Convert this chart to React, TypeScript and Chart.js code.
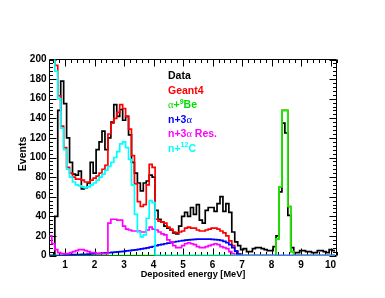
import React, { useEffect, useRef } from 'react';
import { Chart, registerables } from 'chart.js';

Chart.register(...registerables);

// Histogram binning (MeV): bins of 0.1 MeV, first bin starts at 0.45
const FIRST_EDGE = 0.45;
const BIN_WIDTH = 0.1;

const X_TICKS = [1, 2, 3, 4, 5, 6, 7, 8, 9, 10];
const X_TICK_LABELS = ['1', '2', '3', '4', '5', '6', '7', '8', '9', '10'];
const Y_TICKS = [0, 20, 40, 60, 80, 100, 120, 140, 160, 180, 200];
const Y_TICK_LABELS = ['0', '20', '40', '60', '80', '100', '120', '140', '160', '180', '200'];

// bin centres 0.5 ... 10.1
const DATA = [
  0, 0, 40, 148, 178,
  155, 120, 95, 83, 82, 86, 68, 69, 74, 95,
  84, 108, 116, 127, 108, 120, 136, 154, 142, 149,
  138, 142, 123, 95, 84, 74, 66, 74, 76, 82,
  80, 46, 37, 34, 30, 28, 26, 23, 22, 30,
  40, 44, 40, 49, 42, 52, 36, 33, 46, 49,
  49, 45, 53, 60, 45, 53, 44, 24, 14, 10,
  6, 7, 4, 4, 7, 8, 8, 7, 6, 5,
  5, 9, 20, 65, 135, 125, 41, 8, 3, 3,
  5, 5, 4, 4, 3, 3, 5, 5, 4, 3,
  6, 5,
];

const GEANT4 = [
  250, 227, 194, 163, 132,
  110, 90, 84, 80, 78, 78, 77, 75, 75, 77,
  79, 81, 84, 88, 92, 124, 135, 140, 146, 154,
  150, 142, 129, 102, 73, 55, 50, 52, 72, 93,
  90, 37, 35, 34, 33, 29, 27, 24, 23, 24,
  25, 28, 29, 28, 28, 26, 25, 25, 26, 27,
  28, 28, 27, 25, 23, 20, 15, 10, 4.5, 1.5,
  0, 0, 0, 0, 0, 0, 0, 0, 0, 0,
  0, 0, 17, 70, 148, 148, 50, 4, 0, 0,
  0, 0, 0, 0, 0, 0, 0, 0, 0, 0,
  0, 0,
];

const ALPHA_BE9 = [
  0, 0, 0, 0, 0,
  0, 0, 0, 0, 0, 0, 0, 0, 0, 0,
  0, 0, 0, 0, 0, 0, 0, 0, 0, 0,
  0, 0, 0, 0, 0, 0, 0, 0, 0, 0,
  0, 0, 0, 0, 0, 0, 0, 0, 0, 0,
  0, 0, 0, 0, 0, 0, 0, 0, 0, 0,
  0, 0, 0, 0, 0, 0, 0, 0, 0, 0,
  0, 0, 0, 0, 0, 0, 0, 0, 0, 0,
  0, 0, 17, 70, 148, 148, 50, 4, 0, 0,
  0, 0, 0, 0, 0, 0, 0, 0, 0, 0,
  0, 0,
];

const N_3ALPHA = [
  0, 0, 0, 0, 0,
  0.3, 0.5, 0.7, 0.8, 1, 1, 1.2, 1.3, 1.5, 1.6,
  1.8, 2, 2.2, 2.4, 2.6, 2.8, 3.1, 3.4, 3.7, 4,
  4.3, 4.7, 5, 5.4, 5.8, 6.2, 6.7, 7.2, 7.8, 8.5,
  9.2, 10, 10.8, 11.4, 12, 12.6, 13.2, 13.8, 14.3, 14.8,
  15.2, 15.6, 16, 16.3, 16.5, 16.7, 16.8, 16.8, 16.8, 16.7,
  16.5, 16.3, 16, 15.5, 14.5, 13.2, 11, 8, 4.5, 1.5,
  0, 0, 0, 0, 0, 0, 0, 0, 0, 0,
  0, 0, 0, 0, 0, 0, 0, 0, 0, 0,
  0, 0, 0, 0, 0, 0, 0, 0, 0, 0,
  0, 0,
];

const N_3ALPHA_RES = [
  20, 12, 6, 3, 2,
  2, 2, 3, 4, 5, 6, 6, 5, 4, 3,
  3, 2, 2, 2, 2, 33, 37, 37, 36, 36,
  30, 27, 26, 25, 25, 25, 24, 24, 26, 29,
  27, 26, 24, 22, 21, 16, 14, 10, 8, 8,
  10, 12, 13, 12, 11, 9, 8, 8, 9, 10,
  11, 12, 11, 9, 8, 7, 4, 2, 0, 0,
  0, 0, 0, 0, 0, 0, 0, 0, 0, 0,
  0, 0, 0, 0, 0, 0, 0, 0, 0, 0,
  0, 0, 0, 0, 0, 0, 0, 0, 0, 0,
  0, 0,
];

const N_C12 = [
  230, 215, 188, 160, 130,
  108, 88, 80, 75, 72, 71, 70, 69, 70, 72,
  74, 77, 80, 83, 87, 91, 95, 100, 106, 114,
  116, 110, 98, 72, 42, 24, 19, 21, 38, 56,
  54, 0, 0, 0, 0, 0, 0, 0, 0, 0,
  0, 0, 0, 0, 0, 0, 0, 0, 0, 0,
  0, 0, 0, 0, 0, 0, 0, 0, 0, 0,
  0, 0, 0, 0, 0, 0, 0, 0, 0, 0,
  0, 0, 0, 0, 0, 0, 0, 0, 0, 0,
  0, 0, 0, 0, 0, 0, 0, 0, 0, 0,
  0, 0,
];

const FONT = "'Liberation Sans', Arial, Helvetica, sans-serif";
const GREEK_FONT = "'Liberation Serif', 'DejaVu Serif', serif";

function histPoints(values: number[]) {
  const pts = values.map((v, i) => ({ x: FIRST_EDGE + i * BIN_WIDTH, y: v }));
  pts.push({ x: FIRST_EDGE + values.length * BIN_WIDTH, y: values[values.length - 1] });
  return pts;
}

type Seg = { t: string; sup?: boolean; greek?: boolean };

function drawRich(ctx: CanvasRenderingContext2D, x: number, y: number, segs: Seg[], color: string, size: number) {
  let cx = x;
  ctx.fillStyle = color;
  ctx.textBaseline = 'alphabetic';
  ctx.textAlign = 'left';
  for (const s of segs) {
    const fs = s.sup ? size * 0.68 : size;
    ctx.font = s.greek ? `${fs}px ${GREEK_FONT}` : `bold ${fs}px ${FONT}`;
    ctx.fillText(s.t, cx, s.sup ? y - size * 0.42 : y);
    cx += ctx.measureText(s.t).width;
  }
}

const LEGEND: { segs: Seg[]; color: string }[] = [
  { segs: [{ t: 'Data' }], color: '#000000' },
  { segs: [{ t: 'Geant4' }], color: '#ff0000' },
  { segs: [{ t: 'α', greek: true }, { t: '+' }, { t: '9', sup: true }, { t: 'Be' }], color: '#00e000' },
  { segs: [{ t: 'n+3' }, { t: 'α', greek: true }], color: '#0000ff' },
  { segs: [{ t: 'n+3' }, { t: 'α', greek: true }, { t: ' Res.' }], color: '#ff00ff' },
  { segs: [{ t: 'n+' }, { t: '12', sup: true }, { t: 'C' }], color: '#00ffff' },
];

const framePlugin = {
  id: 'rootFrame',
  beforeDatasetsDraw(chart: any) {
    const { ctx, chartArea: a } = chart;
    const xs = chart.scales.x;
    const ys = chart.scales.y;
    ctx.save();
    ctx.strokeStyle = '#000';
    ctx.lineWidth = 1;
    ctx.beginPath();
    ctx.rect(a.left, a.top, a.right - a.left, a.bottom - a.top);
    for (let k = Math.ceil(xs.min / 0.2); k * 0.2 <= xs.max + 1e-9; k++) {
      const v = k * 0.2;
      const major = Math.abs(v - Math.round(v)) < 1e-6;
      const len = major ? 7 : 3.5;
      const px = Math.round(xs.getPixelForValue(v)) + 0.5;
      ctx.moveTo(px, a.bottom);
      ctx.lineTo(px, a.bottom - len);
      ctx.moveTo(px, a.top);
      ctx.lineTo(px, a.top + len);
    }
    for (let v = 0; v <= 200; v += 4) {
      const major = v % 20 === 0;
      const len = major ? 7 : 3.5;
      const py = Math.round(ys.getPixelForValue(v)) + 0.5;
      ctx.moveTo(a.left, py);
      ctx.lineTo(a.left + len, py);
      ctx.moveTo(a.right, py);
      ctx.lineTo(a.right - len, py);
    }
    ctx.stroke();
    ctx.restore();
  },
  afterDraw(chart: any) {
    const { ctx, chartArea: a } = chart;
    ctx.save();
    // axis titles
    ctx.fillStyle = '#000';
    ctx.font = `bold 9.2px ${FONT}`;
    ctx.textAlign = 'center';
    ctx.textBaseline = 'alphabetic';
    ctx.fillText('Deposited energy [MeV]', (a.left + a.right) / 2, 277);
    ctx.save();
    ctx.translate(26, 154);
    ctx.rotate(-Math.PI / 2);
    ctx.font = `bold 10.5px ${FONT}`;
    ctx.fillText('Events', 0, 0);
    ctx.restore();
    // legend
    const baselines = [79.3, 93.7, 108.2, 122.6, 137.1, 151.5];
    LEGEND.forEach((e, i) => drawRich(ctx, 168, baselines[i], e.segs, e.color, 10.5));
    ctx.restore();
  },
};

export default function App() {
  const ref = useRef<HTMLCanvasElement | null>(null);
  useEffect(() => {
    document.body.style.margin = '0';
    const canvas = ref.current;
    if (!canvas) return;
    const mk = (label: string, values: number[], color: string, width: number) => ({
      label,
      data: histPoints(values),
      borderColor: color,
      backgroundColor: color,
      borderWidth: width,
      stepped: 'before' as const,
      pointRadius: 0,
      fill: false,
      tension: 0,
    });
    const chart = new Chart(canvas, {
      type: 'line',
      data: {
        datasets: [
          mk('n+12C', N_C12, '#00ffff', 1.7),
          mk('n+3α Res.', N_3ALPHA_RES, '#ff00ff', 1.7),
          mk('n+3α', N_3ALPHA, '#0000ff', 1.7),
          mk('α+9Be', ALPHA_BE9, '#00ff00', 1.7),
          mk('Geant4', GEANT4, '#ff0000', 1.7),
          mk('Data', DATA, '#000000', 1.7),
        ] as any,
      },
      options: {
        animation: false,
        responsive: false,
        devicePixelRatio: 1,
        layout: { padding: { left: 0, top: 59.5, right: 48.5, bottom: 0 } },
        plugins: { legend: { display: false }, tooltip: { enabled: false } },
        scales: {
          x: {
            type: 'linear',
            min: 0.47,
            max: 10.2,
            grid: { display: false, drawTicks: false },
            border: { display: false },
            ticks: {
              color: '#000',
              font: { family: FONT, size: 10, weight: 'bold' },
              padding: 4,
              maxRotation: 0,
              callback: (v: any) => {
                const i = X_TICKS.indexOf(Number(v));
                return i >= 0 ? X_TICK_LABELS[i] : '';
              },
            },
            afterBuildTicks: (s: any) => {
              s.ticks = X_TICKS.map((v) => ({ value: v }));
            },
            afterFit: (s: any) => {
              s.height = 42.5;
            },
          },
          y: {
            type: 'linear',
            min: 0,
            max: 200,
            grid: { display: false, drawTicks: false },
            border: { display: false },
            ticks: {
              color: '#000',
              font: { family: FONT, size: 10, weight: 'bold' },
              padding: 3,
              callback: (v: any) => {
                const i = Y_TICKS.indexOf(Number(v));
                return i >= 0 ? Y_TICK_LABELS[i] : '';
              },
            },
            afterBuildTicks: (s: any) => {
              s.ticks = Y_TICKS.map((v) => ({ value: v }));
            },
            afterFit: (s: any) => {
              s.width = 49.5;
            },
          },
        },
      } as any,
      plugins: [framePlugin],
    });
    return () => chart.destroy();
  }, []);
  return (
    <div style={{ width: 385, height: 298, background: '#fff' }}>
      <canvas ref={ref} width={385} height={298} style={{ display: 'block', width: 385, height: 298 }} />
    </div>
  );
}
